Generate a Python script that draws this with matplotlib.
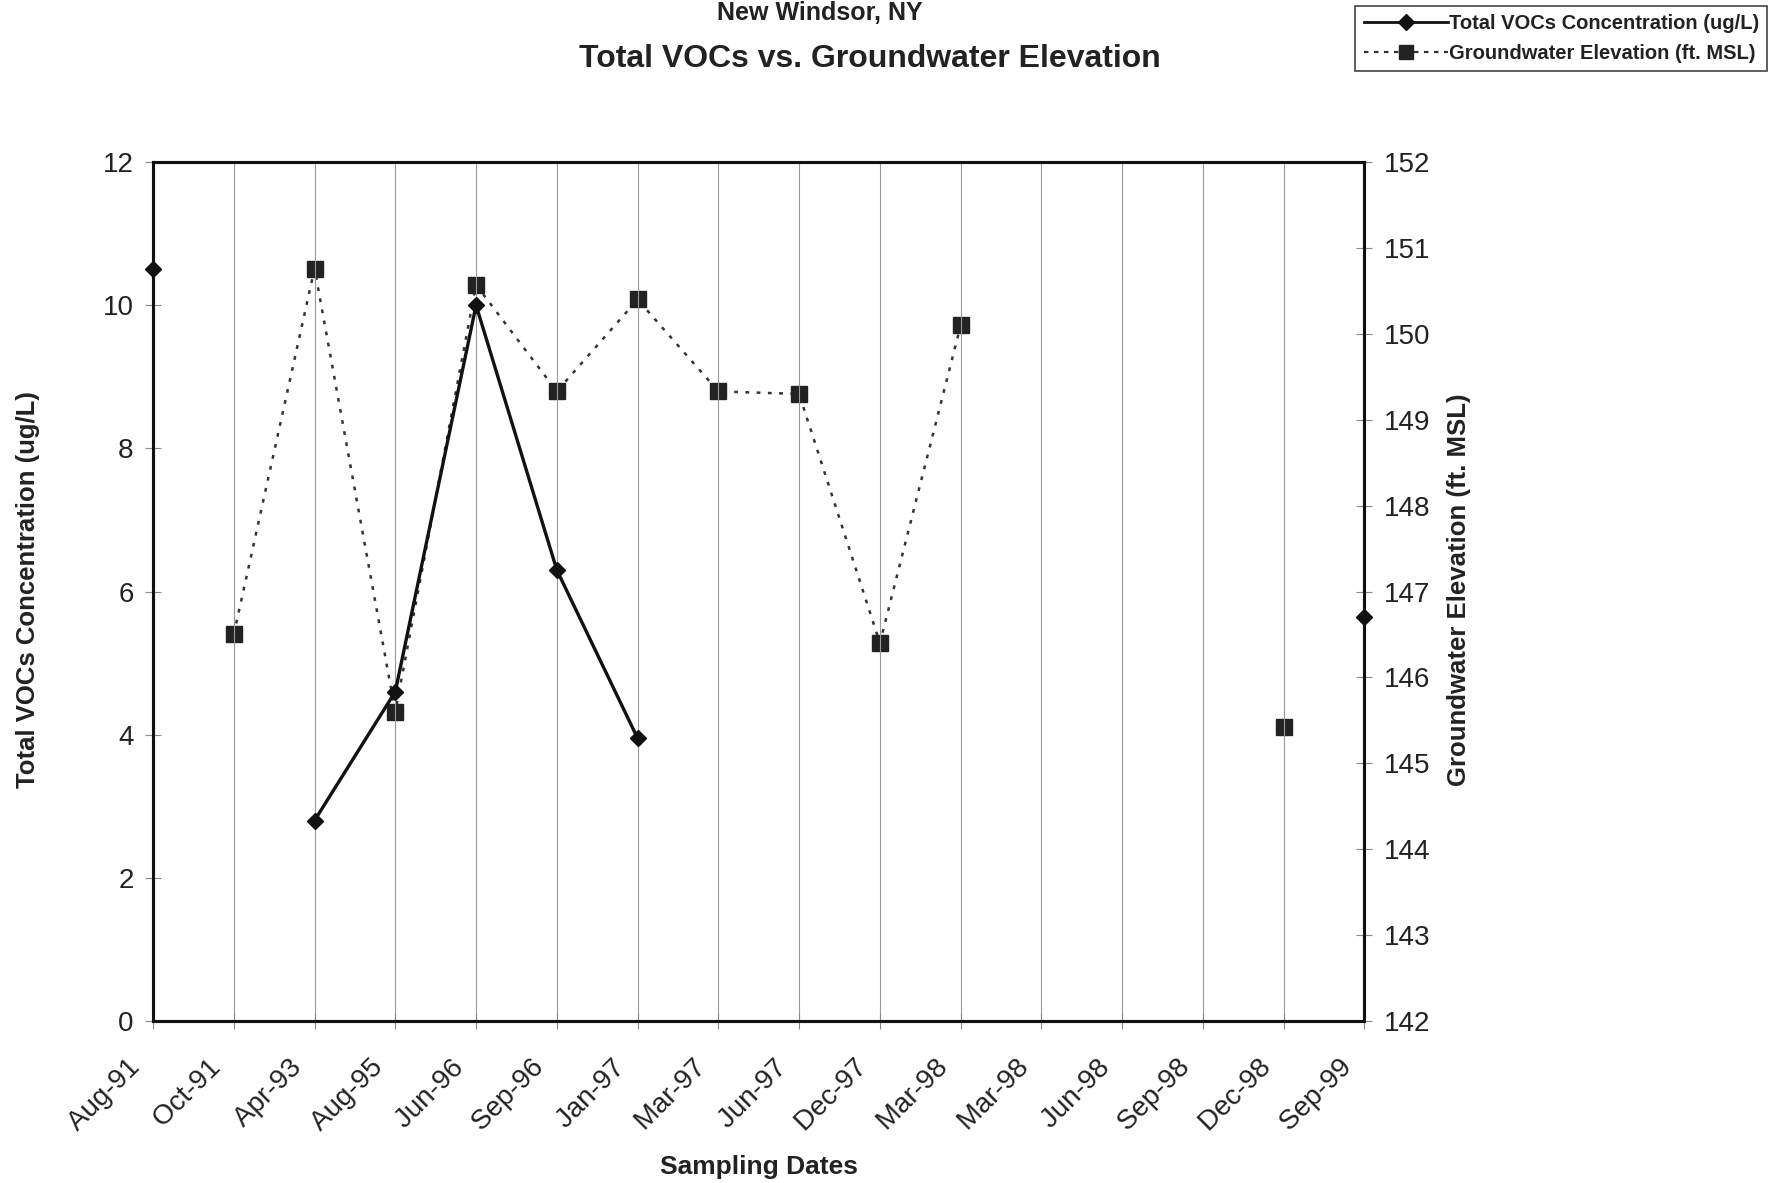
import matplotlib
matplotlib.use("Agg")
import matplotlib.pyplot as plt
import numpy as np
from matplotlib.lines import Line2D

plt.rcParams["font.family"] = ["Liberation Sans", "DejaVu Sans"]

DATES = ["Aug-91", "Oct-91", "Apr-93", "Aug-95", "Jun-96", "Sep-96", "Jan-97", "Mar-97",
         "Jun-97", "Dec-97", "Mar-98", "Mar-98", "Jun-98", "Sep-98", "Dec-98", "Sep-99"]
nan = np.nan
VOCS = [10.5, nan, 2.8, 4.6, 10.0, 6.3, 3.95, nan,
        nan, nan, nan, nan, nan, nan, nan, 5.65]
GW_ELEV = [nan, 146.5, 150.76, 145.6, 150.57, 149.33, 150.4, 149.33,
           149.3, 146.4, 150.1, nan, nan, nan, 145.42, nan]

x = np.arange(len(DATES))

fig = plt.figure(figsize=(17.79, 11.83), dpi=100)
ax = fig.add_axes([0.086, 0.137, 0.681, 0.726])
ax2 = ax.twinx()

ax.plot(x, VOCS, color="#111111", lw=2.4, marker="D", ms=8, zorder=4, clip_on=False)
ax2.plot(x, GW_ELEV, color="#333333", lw=1.8, ls=(0, (1.5, 3)), marker="s", ms=12,
         mfc="#222222", mec="#222222", zorder=3, clip_on=False)
ax.set_zorder(ax2.get_zorder() + 1)
ax.patch.set_visible(False)

ax.set_xlim(0, len(DATES) - 1)
ax.set_ylim(0, 12)
ax2.set_ylim(142, 152)
ax.set_yticks(np.arange(0, 13, 2))
ax2.set_yticks(np.arange(142, 153, 1))
ax.set_xticks(x)
# trailing spaces push the rotated labels down-left of their ticks, as in the scan
ax.set_xticklabels([d + "   " for d in DATES], rotation=45, ha="right", va="center",
                   rotation_mode="anchor", fontsize=20, color="#222222")
ax.grid(axis="x", color="#999999", lw=0.8)

for a in (ax, ax2):
    for s in a.spines.values():
        s.set_linewidth(2.2)
        s.set_color("#111111")
    a.tick_params(axis="y", labelsize=20, labelcolor="#222222", direction="inout",
                  length=12, width=0.8, color="#888888", pad=8)
ax.tick_params(axis="x", direction="inout", length=12, width=0.8, color="#888888", pad=13)

ax.set_ylabel("Total VOCs Concentration (ug/L)", fontsize=18.5, fontweight="bold", color="#222222")
ax.yaxis.set_label_coords(-0.093, 0.502)
ax2.set_ylabel("Groundwater Elevation (ft. MSL)", fontsize=18.5, fontweight="bold", color="#222222")
ax2.yaxis.set_label_coords(1.068, 0.502)
ax.set_xlabel("Sampling Dates", fontsize=19, fontweight="bold", color="#222222")
ax.xaxis.set_label_coords(0.5, -0.156)

fig.text(0.461, 0.9995, "New Windsor, NY", ha="center", va="top", fontsize=18, fontweight="bold",
         color="#222222")
fig.text(0.489, 0.950, "Total VOCs vs. Groundwater Elevation", ha="center", va="center",
         fontsize=23, fontweight="bold", color="#222222")

handles = [
    Line2D([], [], color="#111111", lw=2, marker="D", ms=8),
    Line2D([], [], color="#333333", lw=1.6, ls=(0, (2, 2.5)), marker="s", ms=10, mfc="#222222", mec="#222222"),
]
leg = fig.legend(handles, ["Total VOCs Concentration (ug/L)", "Groundwater Elevation (ft. MSL)"],
                 loc="upper right", bbox_to_anchor=(0.9935, 0.995), fancybox=False,
                 edgecolor="#444444", framealpha=1, fontsize=14.5, handlelength=4.2,
                 handletextpad=0.05, borderpad=0.4, labelspacing=0.55, borderaxespad=0)
leg.get_frame().set_linewidth(1.2)
for t in leg.get_texts():
    t.set_fontweight("bold")
    t.set_color("#222222")

fig.savefig("out.png", dpi=100)
